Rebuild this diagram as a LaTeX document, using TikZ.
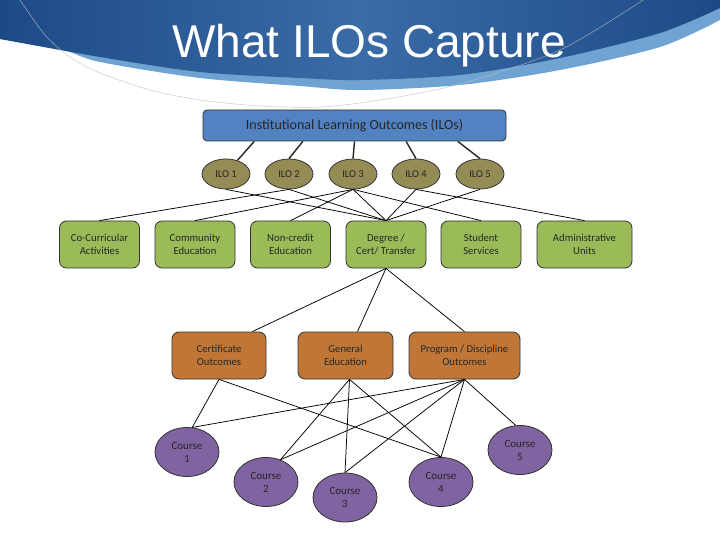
\documentclass[tikz,border=0pt]{standalone}
\usepackage{fontspec}
\setmainfont{Carlito}
\newfontfamily\titlefont{Liberation Sans}
\usetikzlibrary{calc,shapes.geometric}
\definecolor{hdrdark}{HTML}{1D4A86}
\definecolor{hdrmid}{HTML}{3A6CA8}
\definecolor{hdrlight}{HTML}{6FA3D2}
\definecolor{ilobar}{HTML}{5282C2}
\definecolor{iloolive}{HTML}{958B55}
\definecolor{unitgreen}{HTML}{9BBB59}
\definecolor{trackorange}{HTML}{C07636}
\definecolor{coursepurple}{HTML}{8064A2}
\definecolor{edgegray}{HTML}{333333}

\begin{document}
\begin{tikzpicture}[x=1pt, y=-1pt,
    font=\fontsize{10.7}{12.5}\selectfont,
    bar/.style={draw=edgegray, fill=ilobar, rounded corners=4pt, line width=0.8pt,
                minimum width=303pt, minimum height=31pt, inner sep=0pt,
                text=black!85, font=\fontsize{14}{16}\selectfont},
    ilo/.style={ellipse, draw=edgegray, fill=iloolive, line width=0.8pt,
                minimum width=48pt, minimum height=30pt, inner sep=0pt,
                text=black!85, font=\fontsize{10.5}{12}\selectfont},
    unit/.style={draw=edgegray, fill=unitgreen, rounded corners=7pt, line width=0.8pt,
                 minimum width=80pt, minimum height=47pt, inner sep=0pt, align=center, text=black!85},
    track/.style={unit, fill=trackorange},
    course/.style={ellipse, draw=edgegray, fill=coursepurple, line width=0.8pt,
                   minimum width=64pt, minimum height=49pt, inner sep=0pt, align=center,
                   text=black!85, font=\fontsize{11}{13}\selectfont},
    stem/.style={draw=black!85, line width=1.4pt},
    link/.style={draw=black, line width=0.75pt}
  ]
  \useasboundingbox (0,0) rectangle (720,540);
  \fill[white] (0,0) rectangle (720,540);

  % header swoosh
  \fill[hdrlight] (0,0) -- plot[smooth] coordinates {(0,39) (60,49) (100,62) (200,78) (300,86)
      (360,90) (460,85) (560,70) (660,47) (720,20)} -- (720,0) -- cycle;
  \shade[left color=hdrdark, right color=hdrdark, middle color=hdrmid] (0,0)
      -- plot[smooth] coordinates {(0,39) (100,57) (200,72) (300,78) (360,80) (460,75)
      (560,58) (660,33) (720,8)} -- (720,0) -- cycle;
  \draw[black!25, opacity=0.7, line width=0.6pt] plot[smooth] coordinates {(20,0) (45,35) (70,57)
      (100,73) (150,90) (200,100) (260,106) (320,107) (380,100) (460,84) (560,50) (643,0)};
  \node[font=\titlefont\fontsize{46}{50}\selectfont, text=white, anchor=base] (title) at (369,58) {What ILOs Capture};

  % top level
  \node[bar] (ilos) at (354.5,125.5) {Institutional Learning Outcomes (ILOs)};
  \node[ilo] (ilo1) at (226,174) {ILO 1};
  \node[ilo] (ilo2) at (289,174) {ILO 2};
  \node[ilo] (ilo3) at (353,174) {ILO 3};
  \node[ilo] (ilo4) at (416,174) {ILO 4};
  \node[ilo] (ilo5) at (480,174) {ILO 5};
  \foreach \f/\i/\a in {0.17/1/50, 0.33/2/90, 0.5/3/90, 0.67/4/90, 0.84/5/90}
    \draw[stem] ($(ilos.south west)!\f!(ilos.south east)$) -- (ilo\i.\a);

  % units
  \node[unit] (cocurr) at (99.5,244.5) {Co-Curricular\\Activities};
  \node[unit] (commed) at (195,244.5) {Community\\Education};
  \node[unit] (noncred) at (290.5,244.5) {Non-credit\\Education};
  \node[unit] (degree) at (386,244.5) {Degree /\\Cert/ Transfer};
  \node[unit] (student) at (481,244.5) {Student\\Services};
  \node[unit, minimum width=95pt] (admin) at (584.5,244.5) {Administrative\\Units};
  \draw[link] (ilo1.south) -- (degree.north);
  \draw[link] (ilo2.south) -- (cocurr.north);
  \draw[link] (ilo2.south) -- (degree.north);
  \draw[link] (ilo3.south) -- (commed.north);
  \draw[link] (ilo3.south) -- (noncred.north);
  \draw[link] (ilo3.south) -- (degree.north);
  \draw[link] (ilo3.south) -- (student.north);
  \draw[link] (ilo4.south) -- (degree.north);
  \draw[link] (ilo4.south) -- (admin.north);
  \draw[link] (ilo5.south) -- (degree.north);

  % outcome tracks
  \node[track, minimum width=94pt] (cert) at (219,355.5) {Certificate\\Outcomes};
  \node[track, minimum width=95pt] (gened) at (345.5,355.5) {General\\Education};
  \node[track, minimum width=111pt] (prog) at (464.5,355.5) {Program / Discipline\\Outcomes};
  \draw[link] (degree.south) -- ([xshift=-14pt]cert.north east);
  \draw[link] (degree.south) -- ([xshift=12pt]gened.north);
  \draw[link] (degree.south) -- (prog.north);

  % courses
  \node[course] (c1) at (187,452) {Course\\1};
  \node[course] (c2) at (266,482) {Course\\2};
  \node[course] (c3) at (345,497.5) {Course\\3};
  \node[course] (c4) at (441,482) {Course\\4};
  \node[course] (c5) at (520,450) {Course\\5};
  \draw[link] (cert.south) -- (c1.78);
  \draw[link] (cert.south) -- (c4.north);
  \draw[link] ([xshift=4pt]gened.south) -- (c2.57);
  \draw[link] ([xshift=4pt]gened.south) -- (c3.north);
  \draw[link] ([xshift=4pt]gened.south) -- (c4.north);
  \draw[link] (prog.south) -- (c1.78);
  \draw[link] (prog.south) -- (c2.57);
  \draw[link] (prog.south) -- (c3.north);
  \draw[link] (prog.south) -- (c4.north);
  \draw[link] (prog.south) -- (c5.100);
\end{tikzpicture}
\end{document}
